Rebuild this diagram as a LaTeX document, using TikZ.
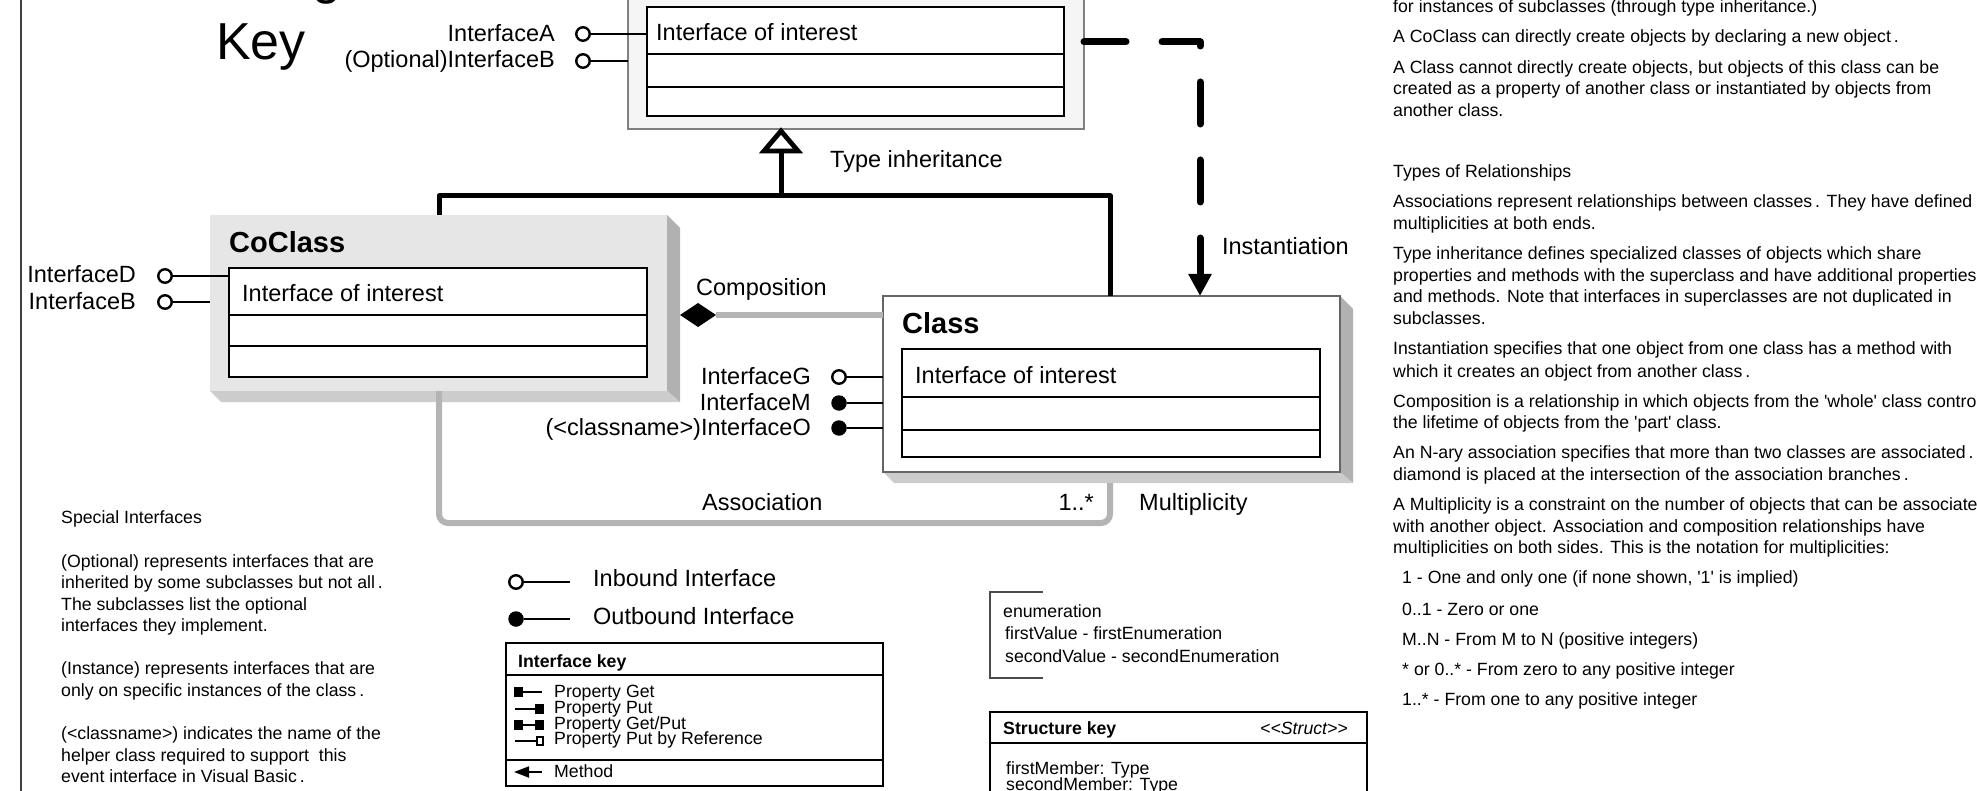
\documentclass[tikz,border=0pt]{standalone}
\usepackage{fontspec}
\setmainfont{Liberation Sans}[Ligatures=TeXOff]
\usetikzlibrary{arrows.meta,shapes.geometric}
\newcommand\fsz[1]{\fontsize{#1pt}{#1pt}\selectfont}
\definecolor{gline}{HTML}{B4B4B4}
\definecolor{coface}{HTML}{E6E6E6}
\definecolor{shadR}{HTML}{B1B1B1}
\definecolor{shadB}{HTML}{CCCCCC}
\definecolor{frameg}{HTML}{808080}
\tikzset{
 lbl/.style={font=\fsz{23.5}, inner sep=0pt, anchor=base west},
 lble/.style={font=\fsz{23.5}, inner sep=0pt, anchor=base east},
 sm/.style={font=\fsz{17.7}, inner sep=0pt, anchor=base west},
 smb/.style={font=\fsz{17.7}\bfseries, inner sep=0pt, anchor=base west},
 ttl/.style={font=\fsz{29}\bfseries, inner sep=0pt, anchor=base west},
 ifbox/.style={draw=black, line width=2.6pt, fill=white, inner sep=0pt, outer sep=0pt, anchor=north west},
 divline/.style={line width=1.3pt},
 conn/.style={line width=5pt},
 gconn/.style={line width=6pt, draw=gline},
 portline/.style={line width=2pt},
 keyline/.style={line width=1.8pt},
 inport/.style={circle, draw=black, line width=2.4pt, fill=white, minimum size=13.5pt, inner sep=0pt},
 outport/.style={circle, fill=black, minimum size=15.5pt, inner sep=0pt},
}
\begin{document}
\begin{tikzpicture}[x=1pt,y=-1pt]
\useasboundingbox (0,0) rectangle (1977,791);
\clip (0,0) rectangle (1977,791);
\fill[white] (0,0) rectangle (1977,791);

% frame line
\draw[line width=1.5pt, draw=black!75] (21,-5) -- (21,796);

% title
\node[font=\fsz{52}, inner sep=0pt, anchor=base west] (titleg) at (312,-6) {g};
\node[font=\fsz{52}, inner sep=0pt, anchor=base west] (key) at (216,60) {Key};

% ---------- top box ----------
\node[draw=frameg, line width=1.2pt, fill=black!4, minimum width=456pt, minimum height=175pt, inner sep=0pt, outer sep=0pt, anchor=south west] (topouter) at (628,129) {};
\node[ifbox, minimum width=417pt, minimum height=109pt] (topif) at (647,7) {};
\draw[divline] (647,54) -- (1064,54) (647,87) -- (1064,87);
\node[lbl] (topiftxt) at (656,41) {Interface of interest};
\node[inport] (pA) at (583,34) {};
\node[inport] (pB) at (583,61) {};
\node[lble] (tA) at (555,42) {InterfaceA};
\node[lble] (tB) at (555,68) {(Optional)InterfaceB};
\draw[portline] (pA) -- (pA -| topif.west);
\draw[portline] (pB) -- (pB -| topouter.west);

% ---------- CoClass ----------
\fill[shadR] (667,215) -- (680,228) -- (680,402) -- (667,391) -- cycle;
\fill[shadB] (210,391) -- (667,391) -- (680,402) -- (221,402) -- cycle;
\node[fill=coface, minimum width=457pt, minimum height=176pt, inner sep=0pt, outer sep=0pt, anchor=north west] (coface) at (210,215) {};
\node[ttl] (cotitle) at (229,253) {CoClass};
\node[ifbox, minimum width=418pt, minimum height=109pt] (coif) at (229,268) {};
\draw[divline] (229,315) -- (647,315) (229,346) -- (647,346);
\node[lbl] (coiftxt) at (242,302) {Interface of interest};
\node[inport] (pD) at (165,276) {};
\node[inport] (pB2) at (165,302) {};
\node[lble] (tD) at (136,283) {InterfaceD};
\node[lble] (tB2) at (136,309) {InterfaceB};
\draw[portline] (pD) -- (pD -| coif.west);
\draw[portline] (pB2) -- (pB2 -| coface.west);

% ---------- Class ----------
\fill[shadR] (1340,296) -- (1353,309) -- (1353,483) -- (1340,472) -- cycle;
\fill[shadB] (883,472) -- (1340,472) -- (1353,483) -- (894,483) -- cycle;
\node[draw=black!60, line width=1.2pt, fill=white, minimum width=457pt, minimum height=176pt, inner sep=0pt, outer sep=0pt, anchor=north west] (clface) at (883,296) {};
\node[ttl] (cltitle) at (902,334) {Class};
\node[ifbox, minimum width=418pt, minimum height=108pt] (clif) at (902,349) {};
\draw[divline] (902,397) -- (1320,397) (902,430) -- (1320,430);
\node[lbl] (cliftxt) at (915,383) {Interface of interest};
\node[inport] (pG) at (839,377) {};
\node[outport] (pM) at (839,403) {};
\node[outport] (pO) at (839,428) {};
\node[lble] (tG) at (811,384) {InterfaceG};
\node[lble] (tM) at (811,410) {InterfaceM};
\node[lble] (tO) at (811,435) {(<classname>)InterfaceO};
\draw[portline] (pG) -- (pG -| clface.west);
\draw[portline] (pM) -- (pM -| clface.west);
\draw[portline] (pO) -- (pO -| clface.west);

% ---------- Type inheritance ----------
\coordinate (inhL) at (439,196);
\coordinate (inhR) at (1110,196);
\coordinate (inhM) at (781,196);
\coordinate (inhT) at (781,151);
\draw[conn, line join=round] (inhL |- coface.north) -- (inhL) -- (inhR) -- (inhR |- clface.north);
\draw[conn] (inhM) -- (inhT);
\draw[line width=4.8pt, fill=white, line join=miter] (781,131) -- (798,151) -- (764,151) -- cycle;
\node[lbl] (tinh) at (830,168) {Type inheritance};

% ---------- Instantiation ----------
\coordinate (instc) at (1200,42);
\draw[line width=7pt, dash pattern=on 42pt off 36pt, line cap=round, line join=round, -{Triangle[length=22pt,width=22pt]}] (topouter.east |- instc) -- (instc) -- (instc |- clface.north);
\node[lble] (tinst) at (1349,255) {Instantiation};

% ---------- Composition ----------
\node[diamond, fill=black, aspect=1.5, minimum width=36pt, minimum height=24pt, inner sep=0pt, outer sep=0pt] (compd) at (698,315) {};
\draw[gconn] (compd.east) -- (compd.east -| clface.west);
\node[lbl] (tcomp) at (696,296) {Composition};

% ---------- Association ----------
\coordinate (asL) at (439,523);
\coordinate (asR) at (1110,523);
\coordinate (clshad) at (1110,483);
\draw[gconn, rounded corners=9pt] (asL |- coface.south) -- (asL) -- (asR) -- (clshad);
\node[lbl] (tassoc) at (702,510) {Association};
\node[lble] (tmult1) at (1094,510) {1..*};
\node[lbl] (tmult) at (1139,510) {Multiplicity};

% ---------- Special interfaces ----------
\node[sm] (si1) at (61,523) {Special Interfaces};
\node[sm] (si2) at (61,567) {(Optional) represents interfaces that are};
\node[sm] (si3) at (61,588) {inherited by some subclasses but not all\,.};
\node[sm] (si4) at (61,610) {The subclasses list the optional};
\node[sm] (si5) at (61,631) {interfaces they implement.};
\node[sm] (si6) at (61,674) {(Instance) represents interfaces that are};
\node[sm] (si7) at (61,696) {only on specific instances of the class\,.};
\node[sm] (si8) at (61,739) {(<classname>) indicates the name of the};
\node[sm] (si9) at (61,761) {helper class required to support\ \ this};
\node[sm] (si10) at (61,782) {event interface in Visual Basic\,.};

% ---------- Inbound / Outbound ----------
\node[inport] (inb) at (516,582) {};
\coordinate (inbE) at (570,582);
\draw[portline] (inb) -- (inbE);
\node[lbl] (tinb) at (593,586) {Inbound Interface};
\node[outport] (outb) at (516,619) {};
\coordinate (outbE) at (570,619);
\draw[portline] (outb) -- (outbE);
\node[lbl] (toutb) at (593,624) {Outbound Interface};

% ---------- Interface key ----------
\node[draw=black, line width=2.6pt, minimum width=377pt, minimum height=143pt, inner sep=0pt, outer sep=0pt, anchor=north west] (ikey) at (506,643) {};
\draw[divline] (506,675) -- (883,675) (506,760) -- (883,760);
\node[smb] (tikey) at (518,667) {Interface key};
\node[sm] (k1) at (554,697) {Property Get};
\node[sm] (k2) at (554,713) {Property Put};
\node[sm] (k3) at (554,729) {Property Get/Put};
\node[sm] (k4) at (554,744) {Property Put by Reference};
\node[sm] (k5) at (554,777) {Method};
\fill (514,687) rectangle (523,697);
\draw[keyline] (523,692) -- (542,692);
\draw[keyline] (515,709) -- (536,709);
\fill (535,704) rectangle (544,714);
\fill (514,720) rectangle (523,730);
\draw[keyline] (523,725) -- (536,725);
\fill (535,720) rectangle (544,730);
\draw[keyline] (515,741) -- (536,741);
\draw[line width=1.6pt, fill=white] (536.8,736.8) rectangle (543.2,745.2);
\coordinate (mS) at (542,772);
\coordinate (mE) at (514,772);
\draw[keyline, -{Triangle[length=15pt,width=11pt]}] (mS) -- (mE);

% ---------- Enumeration ----------
\draw[line width=1.5pt, draw=black!70] (1043,592) -- (990,592) -- (990,678) -- (1043,678);
\node[sm] (en1) at (1003,617) {enumeration};
\node[sm] (en2) at (1005,639) {firstValue - firstEnumeration};
\node[sm] (en3) at (1005,662) {secondValue - secondEnumeration};

% ---------- Structure key ----------
\node[draw=black, line width=2.6pt, minimum width=377pt, minimum height=120pt, inner sep=0pt, outer sep=0pt, anchor=north west] (skey) at (990,712) {};
\draw[divline] (990,743) -- (1367,743);
\node[smb] (tskey) at (1003,734) {Structure key};
\node[font=\fsz{17.7}\itshape, inner sep=0pt, anchor=base east] (tstruct) at (1348,734) {<<Struct>>};
\node[sm] (sm1) at (1006,774) {firstMember: Type};
\node[sm] (sm2) at (1006,790) {secondMember: Type};

% ---------- Right text ----------
\node[sm] (r1) at (1393,13) {for instances of subclasses (through type inheritance.)};
\node[sm] (r2) at (1393,43) {A CoClass can directly create objects by declaring a new object\,.};
\node[sm] (r3) at (1393,74) {A Class cannot directly create objects, but objects of this class can be};
\node[sm] (r4) at (1393,95) {created as a property of another class or instantiated by objects from};
\node[sm] (r5) at (1393,117) {another class.};
\node[sm] (r6) at (1393,178) {Types of Relationships};
\node[sm] (r7) at (1393,208) {Associations represent relationships between classes\,. They have defined};
\node[sm] (r8) at (1393,230) {multiplicities at both ends.};
\node[sm] (r9) at (1393,260) {Type inheritance defines specialized classes of objects which share};
\node[sm] (r10) at (1393,282) {properties and methods with the superclass and have additional properties};
\node[sm] (r11) at (1393,303) {and methods. Note that interfaces in superclasses are not duplicated in};
\node[sm] (r12) at (1393,325) {subclasses.};
\node[sm] (r13) at (1393,355) {Instantiation specifies that one object from one class has a method with};
\node[sm] (r14) at (1393,377) {which it creates an object from another class\,.};
\node[sm] (r15) at (1393,407) {Composition is a relationship in which objects from the 'whole' class controls};
\node[sm] (r16) at (1393,428) {the lifetime of objects from the 'part' class.};
\node[sm] (r17) at (1393,458) {An N-ary association specifies that more than two classes are associated\,.};
\node[sm] (r18) at (1393,480) {diamond is placed at the intersection of the association branches\,.};
\node[sm] (r19) at (1393,510) {A Multiplicity is a constraint on the number of objects that can be associated};
\node[sm] (r20) at (1393,532) {with another object. Association and composition relationships have};
\node[sm] (r21) at (1393,553) {multiplicities on both sides. This is the notation for multiplicities:};
\node[sm] (r22) at (1402,583) {1 - One and only one (if none shown, '1' is implied)};
\node[sm] (r23) at (1402,615) {0..1 - Zero or one};
\node[sm] (r24) at (1402,645) {M..N - From M to N (positive integers)};
\node[sm] (r25) at (1402,675) {* or 0..* - From zero to any positive integer};
\node[sm] (r26) at (1402,705) {1..* - From one to any positive integer};
\end{tikzpicture}
\end{document}
